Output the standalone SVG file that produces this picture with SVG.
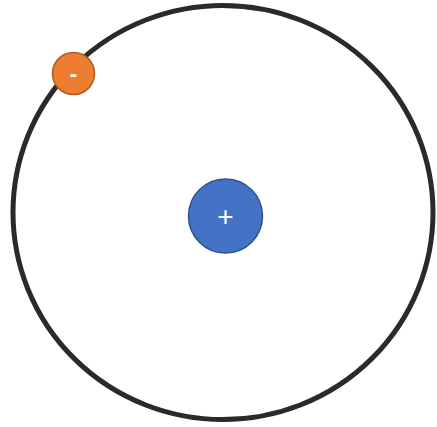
<svg xmlns="http://www.w3.org/2000/svg" width="437" height="427" viewBox="0 0 437 427">
  <style>
    .orbit { fill: none; stroke: #2a2a2a; stroke-width: 5; }
    .proton { fill: #4472C4; stroke: #2F528F; stroke-width: 1.5; }
    .electron { fill: #ED7D31; stroke: #AE5A21; stroke-width: 1.5; }
    .sign { fill: #ffffff; font-family: "Liberation Sans", Arial, sans-serif; text-anchor: middle; dominant-baseline: central; }
  </style>
  <rect width="437" height="427" fill="#ffffff"/>
  <g id="orbit">
    <ellipse class="orbit" cx="223" cy="212.5" rx="210" ry="207"/>
  </g>
  <g id="nucleus">
    <circle class="proton" cx="225.5" cy="216" r="37"/>
    <text class="sign" x="225.5" y="216" font-size="28">+</text>
  </g>
  <g id="electron">
    <circle class="electron" cx="73.5" cy="73.5" r="21"/>
    <text class="sign" x="73.5" y="73" font-size="22" font-weight="bold">-</text>
  </g>
</svg>
